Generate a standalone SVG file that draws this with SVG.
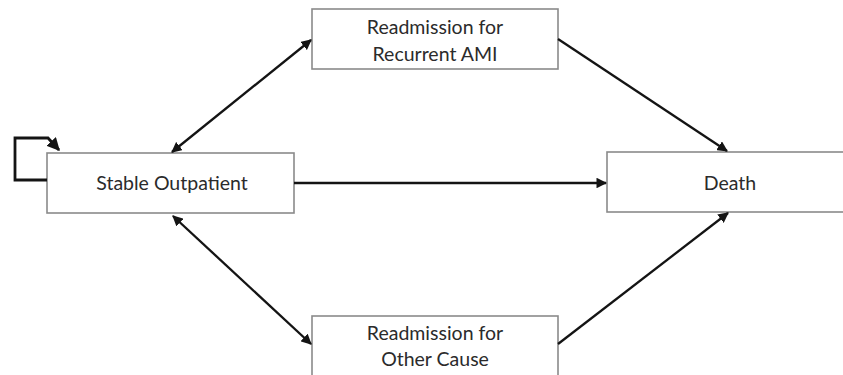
<svg xmlns="http://www.w3.org/2000/svg" width="843" height="375" viewBox="0 0 843 375">
  <style>
    .box { fill: #ffffff; stroke: #8a8a8a; stroke-width: 1.6; }
    .lbl { font-family: Lato, "Liberation Sans", sans-serif; font-size: 19.5px; fill: #2b2b2b; text-anchor: middle; }
    .edge { fill: none; stroke: #141414; stroke-width: 2.3; }
    .loop { stroke-width: 2.8; }
  </style>
  <defs>
    <marker id="head" viewBox="0 0 10 10" refX="9" refY="5" markerWidth="4.6" markerHeight="4.6" orient="auto-start-reverse" markerUnits="strokeWidth">
      <path d="M0,0 L10,5 L0,10 Z" fill="#141414"/>
    </marker>
  </defs>
  <rect width="843" height="375" fill="#ffffff"/>

  <g id="stable-outpatient">
    <rect class="box" x="47" y="153" width="247" height="60"/>
    <text class="lbl" x="172" y="190">Stable Outpatient</text>
  </g>

  <g id="readmission-ami">
    <rect class="box" x="312" y="9" width="246" height="60"/>
    <text class="lbl" x="435" y="34">Readmission for</text>
    <text class="lbl" x="435" y="61">Recurrent AMI</text>
  </g>

  <g id="readmission-other">
    <rect class="box" x="312" y="316" width="246" height="64"/>
    <text class="lbl" x="435" y="340">Readmission for</text>
    <text class="lbl" x="435" y="366">Other Cause</text>
  </g>

  <g id="death">
    <rect class="box" x="607" y="152" width="250" height="60"/>
    <text class="lbl" x="730" y="190">Death</text>
  </g>

  <g id="connectors">
    <!-- self loop on the outpatient state -->
    <path class="edge loop" d="M47,180 L15,180 L15,138 L48,138 L59,150" marker-end="url(#head)"/>
    <!-- two-way links with the readmission states -->
    <line class="edge" x1="172" y1="152" x2="311" y2="40" marker-start="url(#head)" marker-end="url(#head)"/>
    <line class="edge" x1="173" y1="216" x2="311" y2="344" marker-start="url(#head)" marker-end="url(#head)"/>
    <!-- transitions to death -->
    <line class="edge" x1="294" y1="183" x2="606" y2="183" marker-end="url(#head)"/>
    <line class="edge" x1="558" y1="39" x2="727" y2="151" marker-end="url(#head)"/>
    <line class="edge" x1="558" y1="344" x2="728" y2="213" marker-end="url(#head)"/>
  </g>
</svg>
